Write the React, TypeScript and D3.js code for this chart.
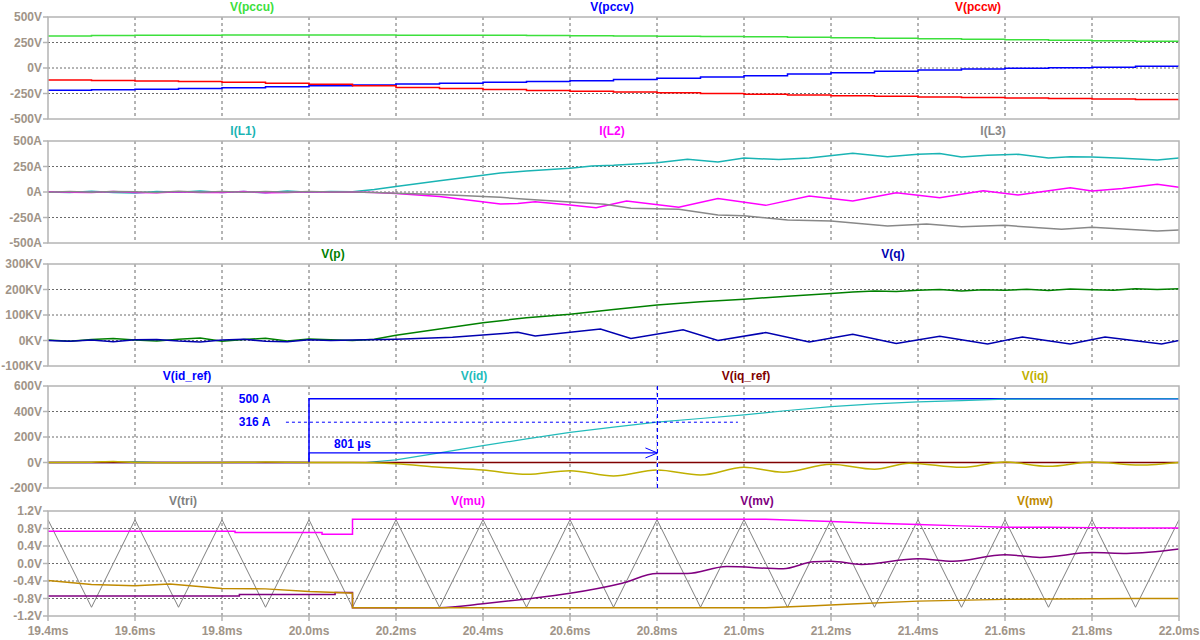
import React from "react";
import * as d3 from "d3";

// ---------- DATA ----------
const timeTicks = [19.4, 19.6, 19.8, 20.0, 20.2, 20.4, 20.6, 20.8, 21.0, 21.2, 21.4, 21.6, 21.8, 22.0];
const timeTickLabels = ["19.4ms", "19.6ms", "19.8ms", "20.0ms", "20.2ms", "20.4ms", "20.6ms", "20.8ms", "21.0ms", "21.2ms", "21.4ms", "21.6ms", "21.8ms", "22.0ms"];

// Panel 1: grid voltages (V)
const pccT = [19.4, 19.5, 19.6, 19.7, 19.8, 19.9, 20.0, 20.1, 20.2, 20.3, 20.4, 20.5, 20.6, 20.7, 20.8, 20.9, 21.0, 21.1, 21.2, 21.3, 21.4, 21.5, 21.6, 21.7, 21.8, 21.9, 22.0];
const pccu = [314, 318, 321, 322, 323, 323, 323, 323, 322, 321, 320, 318, 317, 314, 311, 309, 307, 302, 297, 292, 287, 282, 277, 272, 268, 263, 258];
const pccv = [-219, -214, -209, -201, -193, -185, -175, -166, -157, -149, -140, -132, -124, -112, -101, -88, -75, -60, -46, -33, -20, -11, -3, 2, 7, 18, 29];
const pccw = [-118, -122, -127, -133, -140, -150, -160, -175, -190, -202, -212, -221, -229, -236, -242, -250, -258, -265, -271, -278, -284, -289, -294, -299, -304, -309, -314];

// Panel 2: inductor currents (A)
const iL1T = [19.4, 19.45, 19.5, 19.55, 19.6, 19.65, 19.7, 19.75, 19.8, 19.85, 19.9, 19.95, 20.0, 20.05, 20.1, 20.15, 20.2, 20.3, 20.4, 20.44, 20.5, 20.6, 20.65, 20.7, 20.8, 20.87, 20.94, 21.0, 21.08, 21.15, 21.25, 21.33, 21.4, 21.45, 21.5, 21.56, 21.63, 21.7, 21.75, 21.8, 21.87, 21.95, 22.0];
const iL1 = [0, -6, 8, -4, -10, 6, -2, 10, -6, 4, -8, 9, -3, 6, 2, 25, 55, 110, 165, 186, 205, 232, 255, 262, 287, 320, 294, 333, 318, 333, 379, 346, 369, 378, 343, 360, 369, 333, 345, 343, 330, 314, 333];
const iL2T = [19.4, 19.45, 19.5, 19.55, 19.6, 19.65, 19.7, 19.75, 19.8, 19.85, 19.9, 19.95, 20.0, 20.05, 20.1, 20.15, 20.2, 20.3, 20.37, 20.44, 20.48, 20.52, 20.6, 20.66, 20.73, 20.85, 20.94, 21.05, 21.15, 21.25, 21.35, 21.45, 21.55, 21.63, 21.75, 21.8, 21.87, 21.95, 22.0];
const iL2 = [2, -3, -6, 4, -5, -8, 3, -4, -6, 5, -7, -4, 2, -3, 0, -5, -15, -45, -80, -118, -112, -95, -127, -154, -88, -150, -65, -131, -39, -88, -7, -56, 13, -29, 42, 10, 35, 75, 46];
const iL3T = [19.4, 19.45, 19.5, 19.55, 19.6, 19.65, 19.7, 19.75, 19.8, 19.85, 19.9, 19.95, 20.0, 20.05, 20.1, 20.15, 20.2, 20.3, 20.4, 20.44, 20.5, 20.6, 20.68, 20.74, 20.85, 20.94, 21.0, 21.1, 21.2, 21.33, 21.42, 21.5, 21.6, 21.73, 21.8, 21.87, 21.95, 22.0];
const iL3 = [-2, 5, -3, 6, 2, -4, 7, -2, 4, -3, 5, -2, 6, -1, 0, -5, -12, -25, -45, -52, -72, -98, -121, -160, -170, -225, -232, -274, -284, -333, -314, -340, -327, -366, -346, -363, -382, -372];

// Panel 3: powers (KV units as shown)
const pT = [19.4, 19.45, 19.5, 19.55, 19.6, 19.65, 19.7, 19.75, 19.8, 19.85, 19.9, 19.95, 20.0, 20.05, 20.1, 20.15, 20.2, 20.3, 20.4, 20.5, 20.6, 20.7, 20.8, 20.9, 21.0, 21.1, 21.2, 21.25, 21.3, 21.35, 21.4, 21.45, 21.5, 21.55, 21.6, 21.65, 21.7, 21.75, 21.8, 21.85, 21.9, 21.95, 22.0];
const pVal = [2, -3, 4, 8, 2, -2, 5, 10, -3, 4, 9, -2, 6, 3, 0, 5, 21, 45, 70, 89, 103, 122, 139, 152, 162, 174, 184, 190, 194, 192, 197, 200, 194, 199, 197, 201, 196, 202, 199, 197, 203, 200, 203];
const qT = [19.4, 19.45, 19.5, 19.55, 19.6, 19.65, 19.7, 19.75, 19.8, 19.85, 19.9, 19.95, 20.0, 20.05, 20.1, 20.2, 20.33, 20.48, 20.52, 20.67, 20.74, 20.86, 20.94, 21.05, 21.15, 21.25, 21.35, 21.45, 21.56, 21.64, 21.75, 21.83, 21.96, 22.0];
const qVal = [0, -3, 2, -5, 3, 4, -2, -6, 2, 5, -3, -5, 3, 0, 2, 5, 13, 32, 18, 45, 8, 42, 0, 31, -6, 24, -12, 17, -14, 14, -14, 14, -14, 0];

// Panel 4: control currents (V units as shown)
const idRefT = [19.4, 20.0, 20.0, 22.0];
const idRef = [0, 0, 500, 500];
const idT = [19.4, 19.55, 19.6, 19.65, 19.8, 20.0, 20.13, 20.2, 20.3, 20.4, 20.5, 20.6, 20.7, 20.8, 20.9, 21.0, 21.1, 21.2, 21.3, 21.4, 21.5, 21.6, 22.0];
const idVal = [0, 0, 5, 0, 0, 0, 0, 20, 75, 132, 185, 237, 277, 316, 345, 373, 408, 438, 460, 475, 486, 497, 500];
const iqRefT = [19.4, 22.0];
const iqRef = [0, 0];
const iqT = [19.4, 19.5, 19.55, 19.6, 19.7, 19.8, 19.9, 20.0, 20.1, 20.2, 20.3, 20.4, 20.5, 20.6, 20.7, 20.8, 20.9, 21.0, 21.09, 21.2, 21.3, 21.38, 21.5, 21.6, 21.7, 21.8, 21.91, 22.0];
const iqVal = [0, 2, 8, 0, -2, 0, 3, 0, 0, -10, -38, -59, -93, -64, -106, -59, -98, -38, -77, -14, -53, -6, -38, 4, -30, 4, -20, 0];

// Panel 5: carrier and modulation signals (V)
const triT = [19.4, 19.5, 19.6, 19.7, 19.8, 19.9, 20.0, 20.1, 20.2, 20.3, 20.4, 20.5, 20.6, 20.7, 20.8, 20.9, 21.0, 21.1, 21.2, 21.3, 21.4, 21.5, 21.6, 21.7, 21.8, 21.9, 22.0];
const triVal = [1, -1, 1, -1, 1, -1, 1, -1, 1, -1, 1, -1, 1, -1, 1, -1, 1, -1, 1, -1, 1, -1, 1, -1, 1, -1, 1];
const muT = [19.4, 19.83, 19.83, 20.03, 20.03, 20.1, 20.1, 21.05, 21.2, 21.3, 21.4, 21.5, 21.6, 21.7, 21.8, 21.88, 22.0];
const muVal = [0.74, 0.74, 0.71, 0.71, 0.67, 0.67, 1.01, 1.01, 0.96, 0.92, 0.89, 0.86, 0.83, 0.83, 0.82, 0.81, 0.81];
const mvT = [19.4, 19.84, 19.84, 20.06, 20.06, 20.1, 20.1, 20.3, 20.4, 20.5, 20.6, 20.72, 20.8, 20.87, 20.96, 21.09, 21.16, 21.2, 21.27, 21.4, 21.48, 21.6, 21.68, 21.8, 21.88, 22.0];
const mvVal = [-0.74, -0.74, -0.71, -0.71, -0.66, -0.66, -1.01, -1.01, -0.92, -0.81, -0.68, -0.45, -0.23, -0.23, -0.07, -0.12, 0.04, 0.05, -0.02, 0.11, 0.05, 0.2, 0.14, 0.25, 0.23, 0.33];
const mwT = [19.4, 19.5, 19.6, 19.68, 19.8, 19.9, 20.0, 20.08, 20.1, 20.1, 21.05, 21.15, 21.26, 21.4, 21.6, 21.9, 22.0];
const mwVal = [-0.39, -0.48, -0.51, -0.47, -0.57, -0.58, -0.64, -0.67, -0.68, -1.01, -1.01, -0.97, -0.92, -0.86, -0.82, -0.80, -0.80];

// Annotation values
const stepTime = 20.0;
const reachTime = 20.801;
const refLevel = 500;
const reachLevel = 316;
const arrowLevel = 75;

// ---------- LAYOUT ----------
const AXIS_COLOR = "#a09488";
const FRAME = "#b4b4b4";
const GRID = "#6a6a6a";
const FONT = "'Liberation Sans', Arial, sans-serif";

type Series = { name: string; t: number[]; v: number[]; color: string; curve?: "step" | "smooth"; width?: number; titleX: number };
type Panel = {
  top: number; bottom: number; domain: [number, number];
  ticks: number[]; labels: string[]; series: Series[];
};

const panels: Panel[] = [
  {
    top: 17, bottom: 119, domain: [-500, 500],
    ticks: [500, 250, 0, -250, -500], labels: ["500V", "250V", "0V", "-250V", "-500V"],
    series: [
      { name: "V(pccu)", t: pccT, v: pccu, color: "#3ce03c", curve: "step", titleX: 252 },
      { name: "V(pccv)", t: pccT, v: pccv, color: "#0000ff", curve: "step", titleX: 612 },
      { name: "V(pccw)", t: pccT, v: pccw, color: "#ff0000", curve: "step", titleX: 978 },
    ],
  },
  {
    top: 141, bottom: 243, domain: [-500, 500],
    ticks: [500, 250, 0, -250, -500], labels: ["500A", "250A", "0A", "-250A", "-500A"],
    series: [
      { name: "I(L1)", t: iL1T, v: iL1, color: "#1ab4b4", titleX: 243 },
      { name: "I(L2)", t: iL2T, v: iL2, color: "#ff00ff", titleX: 612 },
      { name: "I(L3)", t: iL3T, v: iL3, color: "#888888", titleX: 993 },
    ],
  },
  {
    top: 264, bottom: 366, domain: [-100, 300],
    ticks: [300, 200, 100, 0, -100], labels: ["300KV", "200KV", "100KV", "0KV", "-100KV"],
    series: [
      { name: "V(p)", t: pT, v: pVal, color: "#008000", titleX: 333 },
      { name: "V(q)", t: qT, v: qVal, color: "#0000b0", titleX: 893 },
    ],
  },
  {
    top: 386, bottom: 488, domain: [-200, 600],
    ticks: [600, 400, 200, 0, -200], labels: ["600V", "400V", "200V", "0V", "-200V"],
    series: [
      { name: "V(id_ref)", t: idRefT, v: idRef, color: "#0000ff", titleX: 187 },
      { name: "V(id)", t: idT, v: idVal, color: "#22bbbb", width: 1.2, titleX: 474 },
      { name: "V(iq_ref)", t: iqRefT, v: iqRef, color: "#800000", titleX: 746 },
      { name: "V(iq)", t: iqT, v: iqVal, color: "#c0b000", curve: "smooth", titleX: 1035 },
    ],
  },
  {
    top: 511, bottom: 616, domain: [-1.2, 1.2],
    ticks: [1.2, 0.8, 0.4, 0, -0.4, -0.8, -1.2], labels: ["1.2V", "0.8V", "0.4V", "0.0V", "-0.4V", "-0.8V", "-1.2V"],
    series: [
      { name: "V(tri)", t: triT, v: triVal, color: "#808080", width: 1, titleX: 183 },
      { name: "V(mu)", t: muT, v: muVal, color: "#ff00ff", titleX: 468 },
      { name: "V(mv)", t: mvT, v: mvVal, color: "#800080", curve: "smooth", titleX: 757 },
      { name: "V(mw)", t: mwT, v: mwVal, color: "#c08a00", titleX: 1035 },
    ],
  },
];

const x = d3.scaleLinear().domain([19.4, 22.0]).range([48, 1179]);

export default function App() {
  const left = x.range()[0];
  const right = x.range()[1];
  return (
    <svg width={1200} height={640} style={{ position: "fixed", left: 0, top: 0, background: "#fff" }} fontFamily={FONT}>
      <rect x={0} y={0} width={1200} height={640} fill="#ffffff" />
      <defs>
        {panels.map((p, i) => (
          <clipPath id={`clip${i}`} key={i}>
            <rect x={left} y={p.top - 1} width={right - left} height={p.bottom - p.top + 2} />
          </clipPath>
        ))}
      </defs>
      {panels.map((p, i) => {
        const y = d3.scaleLinear().domain(p.domain).range([p.bottom, p.top]);
        return (
          <g key={i}>
            {timeTicks.slice(1, -1).map((t) => (
              <line key={"v" + t} x1={x(t)} x2={x(t)} y1={p.top} y2={p.bottom} stroke={GRID} strokeDasharray="3,3" strokeWidth={1} />
            ))}
            {p.ticks.slice(1, -1).map((v) => (
              <line key={"h" + v} x1={left} x2={right} y1={y(v)} y2={y(v)} stroke={GRID} strokeDasharray="2,2" strokeWidth={1} />
            ))}
            {p.ticks.map((v, k) => (
              <g key={"t" + v}>
                <line x1={left - 5} x2={left} y1={y(v)} y2={y(v)} stroke={FRAME} strokeWidth={1.5} />
                <text x={left - 6} y={y(v)} dy="0.35em" textAnchor="end" fontSize={12} fontWeight="bold" fill={AXIS_COLOR}>{p.labels[k]}</text>
              </g>
            ))}
            <g clipPath={`url(#clip${i})`}>
              {p.series.map((s) => {
                const pts: [number, number][] = s.t.map((t, k) => [t, s.v[k]]);
                const gen = d3.line<[number, number]>().x((d) => x(d[0])).y((d) => y(d[1]));
                if (s.curve === "step") gen.curve(d3.curveStepAfter);
                if (s.curve === "smooth") gen.curve(d3.curveMonotoneX);
                return <path key={s.name} d={gen(pts) || ""} fill="none" stroke={s.color} strokeWidth={s.width ?? 1.5} />;
              })}
            </g>
            <rect x={left} y={p.top} width={right - left} height={p.bottom - p.top} fill="none" stroke={FRAME} strokeWidth={1.5} />
            {p.series.map((s) => (
              <text key={"n" + s.name} x={s.titleX} y={p.top - 6} textAnchor="middle" fontSize={12} fontWeight="bold" fill={s.color}>{s.name}</text>
            ))}
            {i === 3 && <Annotations y={y} />}
          </g>
        );
      })}
      {timeTicks.map((t, k) => (
        <g key={"x" + t}>
          <line x1={x(t)} x2={x(t)} y1={panels[4].bottom} y2={panels[4].bottom + 5} stroke={FRAME} strokeWidth={1.5} />
          <text x={x(t)} y={635} textAnchor="middle" fontSize={12} fontWeight="bold" fill={AXIS_COLOR}>{timeTickLabels[k]}</text>
        </g>
      ))}
    </svg>
  );
}

function Annotations({ y }: { y: d3.ScaleLinear<number, number> }) {
  const p = panels[3];
  const blue = "#0000ff";
  const xs = x(stepTime);
  const xr = x(reachTime);
  const ya = y(arrowLevel);
  return (
    <g>
      <text x={x(19.98) - 30} y={y(refLevel)} dy="0.35em" textAnchor="end" fontSize={12} fontWeight="bold" fill={blue}>500 A</text>
      <text x={x(19.98) - 30} y={y(reachLevel)} dy="0.35em" textAnchor="end" fontSize={12} fontWeight="bold" fill={blue}>316 A</text>
      <line x1={x(19.947)} x2={x(20.986)} y1={y(reachLevel)} y2={y(reachLevel)} stroke={blue} strokeWidth={1} strokeDasharray="3,3" />
      <line x1={xr} x2={xr} y1={p.top} y2={p.bottom} stroke="#ffffff" strokeWidth={1.5} />
      <line x1={xr} x2={xr} y1={p.top} y2={p.bottom} stroke={blue} strokeWidth={1.2} strokeDasharray="4,3" />
      <line x1={xs} x2={xr} y1={ya} y2={ya} stroke={blue} strokeWidth={1.3} />
      <line x1={xs} x2={xs} y1={ya} y2={y(0)} stroke={blue} strokeWidth={1} />
      <path d={`M${xr - 12},${ya - 5} L${xr},${ya} L${xr - 12},${ya + 5}`} fill="none" stroke={blue} strokeWidth={1} />
      <text x={x(20.1)} y={ya - 5} textAnchor="middle" fontSize={12} fontWeight="bold" fill={blue}>801 µs</text>
    </g>
  );
}
